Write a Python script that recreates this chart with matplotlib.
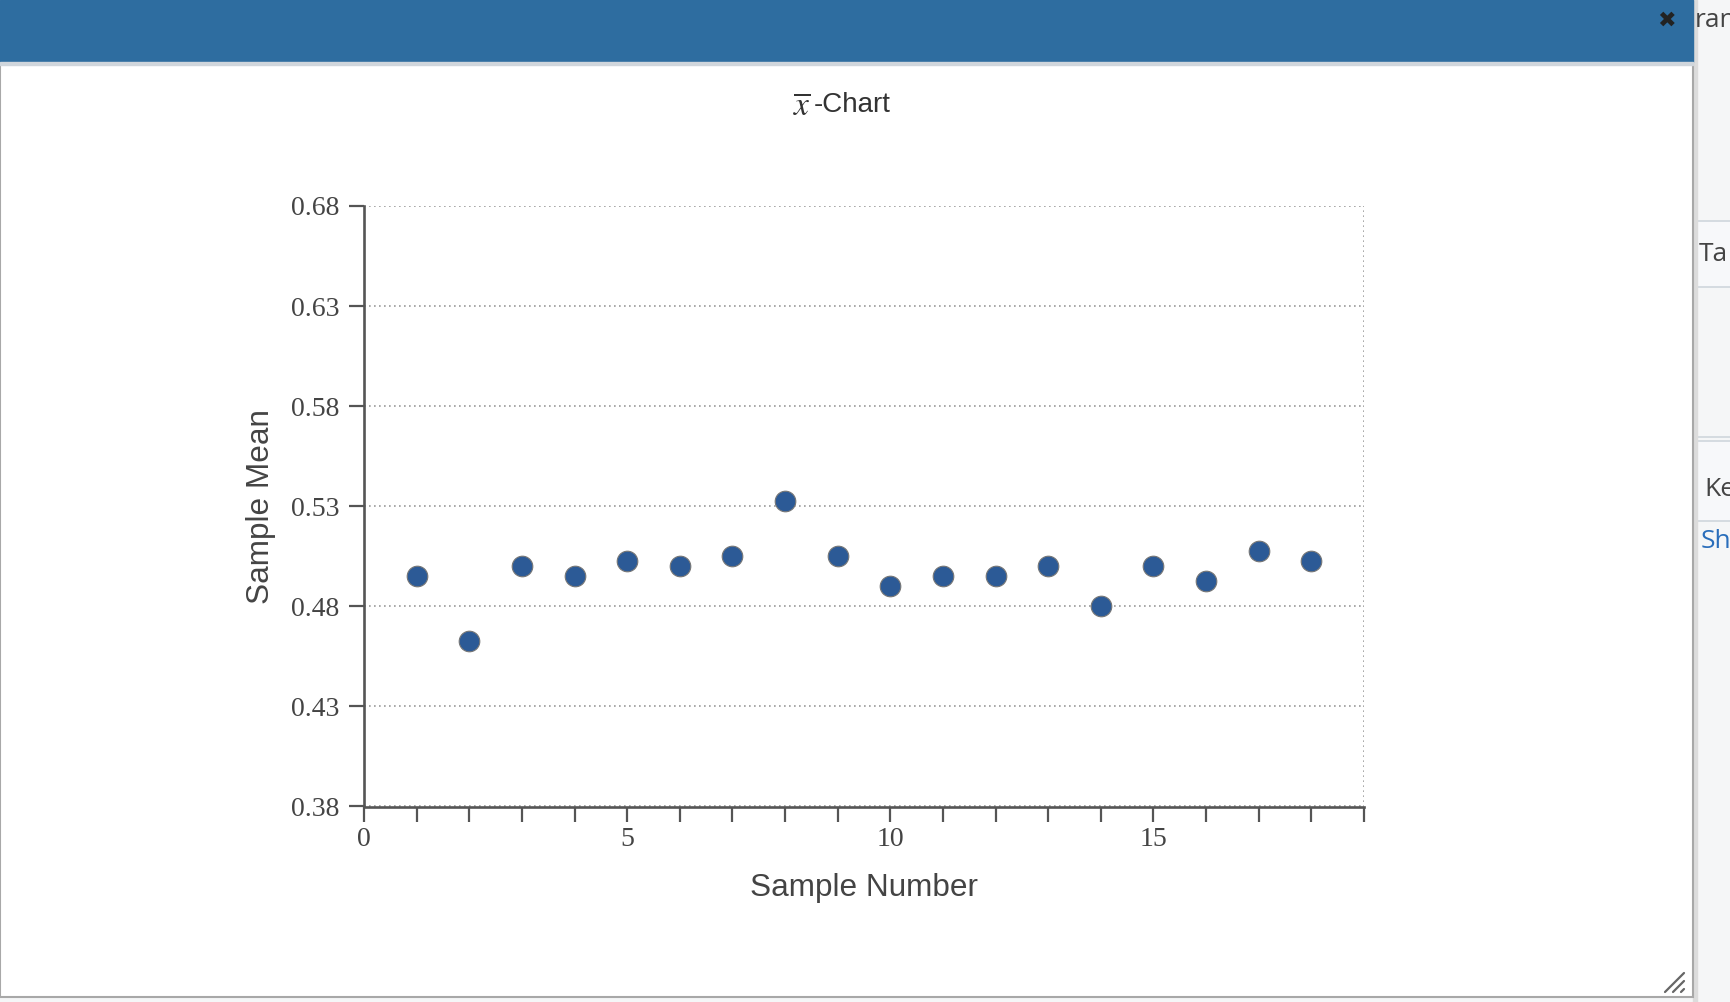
import matplotlib.pyplot as plt
from matplotlib.patches import Rectangle
from matplotlib.ticker import FixedLocator, FormatStrFormatter

plt.rcParams['mathtext.fontset'] = 'stix'

# data
sample_number = list(range(1, 19))
sample_mean = [0.495, 0.4625, 0.500, 0.495, 0.5025, 0.500, 0.505, 0.5325, 0.505,
               0.490, 0.495, 0.495, 0.500, 0.480, 0.500, 0.4925, 0.5075, 0.5025]
y_ticks = [0.38, 0.43, 0.48, 0.53, 0.58, 0.63, 0.68]
x_labeled = [0, 5, 10, 15]

W, H = 1730, 1002
fig = plt.figure(figsize=(W / 100, H / 100), dpi=100)

# page / modal chrome in pixel coords
bg = fig.add_axes([0, 0, 1, 1], zorder=0)
bg.set_xlim(0, W)
bg.set_ylim(H, 0)
bg.axis('off')
bg.add_patch(Rectangle((0, 0), W, H, color='#f5f6f7', zorder=0))
bg.add_patch(Rectangle((1694, 221), 40, 66, facecolor='#f7f8fa', edgecolor='#cfd6dc', lw=1.2, zorder=1))
bg.add_patch(Rectangle((1694, 441), 40, 80, facecolor='#f7f8fa', edgecolor='#cfd6dc', lw=1.2, zorder=1))
bg.plot([1694, 1730], [437, 437], color='#cfd6dc', lw=1.2, zorder=1)
bg.add_patch(Rectangle((1693, 0), 4, H, color='#dcdcdc', zorder=1))
bg.add_patch(Rectangle((0, 0), 1693, 997, facecolor='white', edgecolor='#a8a8a8', lw=1.5, zorder=2))
bg.add_patch(Rectangle((0, 0), 1693, 62, color='#2e6da0', zorder=3))
bg.add_patch(Rectangle((0, 62), 1693, 2.5, color='#d0d6dc', zorder=3))
bg.text(1666, 21, '\u2716', fontsize=16, color='#222222', ha='center', va='center', zorder=4)

# partly hidden page text to the right of the modal
side_texts = [('ran', 1695, 20, '#444444'), ('Ta', 1699, 254, '#444444'),
              ('Ke', 1704, 489, '#444444'), ('Sh', 1701, 541, '#2a6ebb')]
for txt, px, py, col in side_texts:
    t = bg.text(px, py, txt, fontsize=19, color=col, ha='left', va='center',
                family='Open Sans', zorder=4)
    t.set_clip_on(True)

for off in (0, 8, 16):
    bg.plot([1665 + off, 1684], [992, 973 + off], color='#666666', lw=1.6,
            solid_capstyle='round', zorder=4)

# title: x-bar drawn a bit larger than the rest, as in the reference
bg.text(811, 106, r'$\overline{x}$', fontsize=24, color='#333333',
        ha='right', va='center', zorder=4)
bg.text(814, 105, '-Chart', fontsize=20, color='#333333',
        ha='left', va='center', family='Liberation Sans', zorder=4)

# the chart itself
ax = fig.add_axes([364 / W, 1 - 806.5 / H, 1000 / W, 600.5 / H], zorder=5)
ax.patch.set_alpha(0)
ax.scatter(sample_number, sample_mean, s=220, color='#2c5a96', edgecolor='#777777',
           linewidth=0.8, zorder=3, clip_on=False)

ax.set_xlim(0, 19)
ax.set_ylim(0.38, 0.68)
ax.set_yticks(y_ticks)
ax.yaxis.set_major_formatter(FormatStrFormatter('%.2f'))
ax.xaxis.set_major_locator(FixedLocator(x_labeled))
ax.xaxis.set_minor_locator(FixedLocator(list(range(0, 20))))

grid_style = dict(color='#9a9a9a', lw=1.2, linestyle=(0, (1, 2)))
ax.grid(axis='y', **grid_style)
ax.axvline(19, **grid_style)

for side in ('top', 'right'):
    ax.spines[side].set_visible(False)
for side in ('left', 'bottom'):
    ax.spines[side].set_color('#555555')
    ax.spines[side].set_linewidth(1.9)

ax.tick_params(axis='both', which='both', length=10.5, width=1.6, color='#555555',
               labelcolor='#444444', direction='out')
ax.tick_params(axis='y', pad=7)
ax.tick_params(axis='x', pad=4)
for lab in ax.get_xticklabels() + ax.get_yticklabels():
    lab.set_family('Liberation Serif')
    lab.set_fontsize(20)

ax.set_xlabel('Sample Number', fontsize=22.7, color='#444444', family='Liberation Sans', va='center')
ax.set_ylabel('Sample Mean', fontsize=22.7, color='#444444', family='Liberation Sans', va='center')
ax.xaxis.set_label_coords(0.5, (806.5 - 888) / 600.5)
ax.yaxis.set_label_coords((261 - 364) / 1000, 0.5)

fig.savefig('out.png', dpi=100)
